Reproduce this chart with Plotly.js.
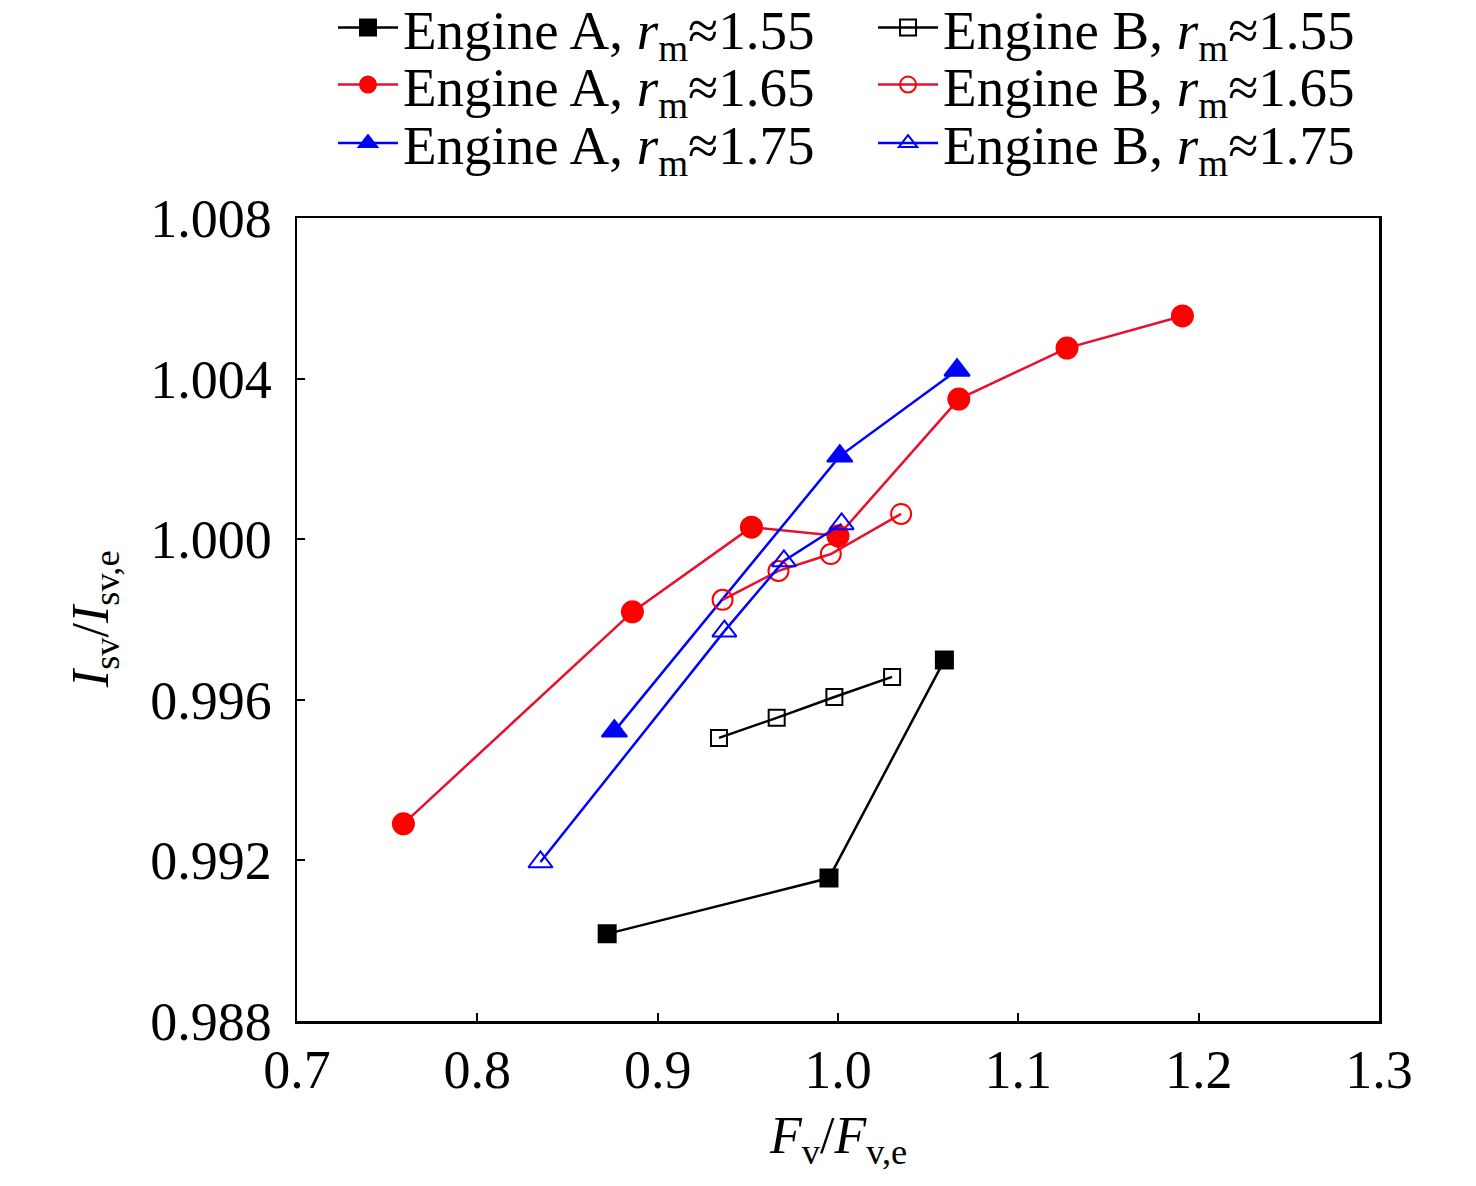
<!DOCTYPE html>
<html>
<head>
<meta charset="utf-8">
<script src="https://cdn.plot.ly/plotly-3.0.1.min.js"></script>
<style>
  html, body { margin: 0; padding: 0; background: #fff; }
  #chart { width: 1476px; height: 1186px; }
</style>
</head>
<body>
<div id="chart"></div>
<script>
// values
var aX155 = [0.872, 0.995, 1.059];
var aY155 = [0.99017, 0.99156, 0.99699];
var bX155 = [0.934, 0.966, 0.998, 1.030];
var bY155 = [0.99505, 0.99555, 0.99607, 0.99657];

var aX165 = [0.759, 0.886, 0.952, 1.000, 1.067, 1.127, 1.191];
var aY165 = [0.99291, 0.99819, 1.00030, 1.00008, 1.00349, 1.00476, 1.00556];
var bX165 = [0.936, 0.967, 0.996, 1.035];
var bY165 = [0.99849, 0.99921, 0.99963, 1.00063];

var aX175 = [0.876, 1.001, 1.066];
var aY175 = [0.99522, 1.00207, 1.00421];
var bX175 = [0.835, 0.937, 0.970, 1.002];
var bY175 = [0.99196, 0.99771, 0.99946, 1.00038];

var xTicks = [0.7, 0.8, 0.9, 1.0, 1.1, 1.2, 1.3];
var xTickText = ['0.7', '0.8', '0.9', '1.0', '1.1', '1.2', '1.3'];
var yTicks = [0.988, 0.992, 0.996, 1.000, 1.004, 1.008];
var yTickText = ['0.988', '0.992', '0.996', '1.000', '1.004', '1.008'];

var red = '#ff0000';
var redLine = '#e8102e';
var blue = '#0000ff';

function series(x, y, name, color, lineColor, symbol, size, leg) {
  return {
    x: x, y: y, type: 'scatter', mode: 'lines+markers',
    name: name, legend: leg,
    line: { color: lineColor, width: 2.5 },
    marker: { symbol: symbol, size: size, color: color, line: { color: color, width: 2 } }
  };
}

var traces = [
  series(aX155, aY155, 'Engine A, <i>r</i><sub>m</sub>≈1.55', '#000', '#000', 'square', 17, 'legend'),
  series(aX165, aY165, 'Engine A, <i>r</i><sub>m</sub>≈1.65', red, redLine, 'circle', 21, 'legend2'),
  series(aX175, aY175, 'Engine A, <i>r</i><sub>m</sub>≈1.75', blue, blue, 'triangle-up', 22, 'legend3'),
  series(bX155, bY155, 'Engine B, <i>r</i><sub>m</sub>≈1.55', '#000', '#000', 'square-open', 16, 'legend4'),
  series(bX165, bY165, 'Engine B, <i>r</i><sub>m</sub>≈1.65', red, redLine, 'circle-open', 20, 'legend5'),
  series(bX175, bY175, 'Engine B, <i>r</i><sub>m</sub>≈1.75', blue, blue, 'triangle-up-open', 21, 'legend6')
];

var family = '"Liberation Serif", "Times New Roman", serif';
var font = { family: family, size: 54, color: '#000' };
var titleFont = { family: family, size: 52, color: '#000' };

function leg(x, y) {
  return {
    xref: 'container', yref: 'container', x: x, y: y,
    xanchor: 'left', yanchor: 'middle',
    orientation: 'v', font: { family: family, size: 55, color: '#000' },
    bgcolor: 'rgba(0,0,0,0)', itemwidth: 60
  };
}

var col1 = 0.2256, col2 = 0.5915;
var rows = [0.9765, 0.9285, 0.8792];

var layout = {
  width: 1476, height: 1186,
  paper_bgcolor: '#fff', plot_bgcolor: '#fff',
  font: font,
  margin: { l: 297, r: 97, t: 218, b: 165, autoexpand: false },
  showlegend: true,
  legend: leg(col1, rows[0]),
  legend2: leg(col1, rows[1]),
  legend3: leg(col1, rows[2]),
  legend4: leg(col2, rows[0]),
  legend5: leg(col2, rows[1]),
  legend6: leg(col2, rows[2]),
  xaxis: {
    range: [0.7, 1.3], tickvals: xTicks, ticktext: xTickText,
    ticks: 'inside', ticklen: 8, tickwidth: 2, tickcolor: '#000',
    showline: true, linecolor: '#000', linewidth: 2.5, mirror: true,
    showgrid: false, zeroline: false
  },
  yaxis: {
    range: [0.988, 1.008], tickvals: yTicks, ticktext: yTickText,
    ticks: 'inside', ticklen: 8, tickwidth: 2, tickcolor: '#000',
    showline: true, linecolor: '#000', linewidth: 2.5, mirror: true,
    showgrid: false, zeroline: false, ticklabelstandoff: 12
  },
  annotations: [
    {
      text: '<i>F</i><sub>v</sub>/<i>F</i><sub>v,e</sub>', font: titleFont,
      xref: 'paper', yref: 'paper', x: 0.5, y: -0.148,
      xanchor: 'center', yanchor: 'middle', showarrow: false
    },
    {
      text: '<i>I</i><sub>sv</sub>/<i>I</i><sub>sv,e</sub>', font: titleFont,
      xref: 'paper', yref: 'paper', x: -0.187, y: 0.5, textangle: -90,
      xanchor: 'center', yanchor: 'middle', showarrow: false
    }
  ]
};

Plotly.newPlot('chart', traces, layout, { staticPlot: true });
</script>
</body>
</html>
